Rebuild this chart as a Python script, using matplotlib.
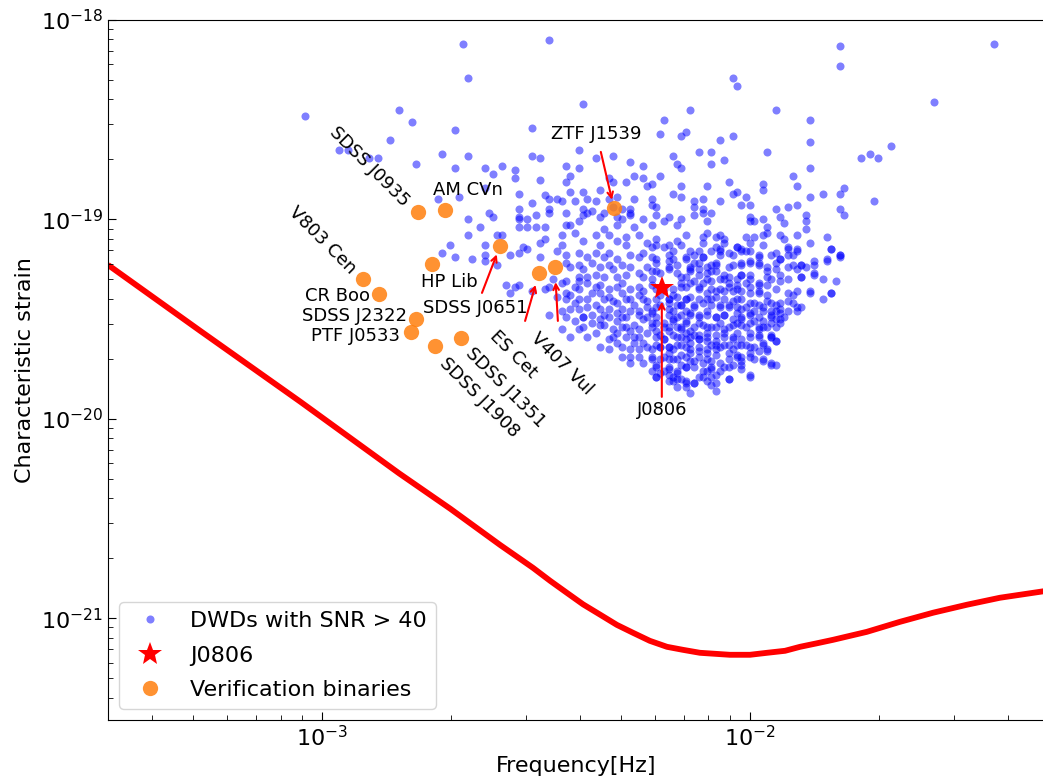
import numpy as np
import matplotlib
matplotlib.use("Agg")
import matplotlib.pyplot as plt
from matplotlib.ticker import NullFormatter

# ---- data (log10 frequency [Hz], log10 characteristic strain) ----
# sparse upper part of the DWD population
dwd_upper = [
    (-3.04, -18.48), (-2.67, -18.12), (-2.47, -18.10), (-2.66, -18.29), (-2.82, -18.45),
    (-2.79, -18.51), (-2.69, -18.55), (-2.39, -18.42), (-2.84, -18.60), (-2.96, -18.65),
    (-2.94, -18.65), (-2.89, -18.69), (-2.87, -18.69), (-2.78, -18.72), (-2.72, -18.67),
    (-2.66, -18.68), (-2.69, -18.74), (-2.51, -18.54), (-2.51, -18.68), (-2.49, -18.69),
    (-2.62, -18.74), (-2.60, -18.77), (-2.58, -18.73), (-2.55, -18.75), (-2.55, -18.79),
    (-2.49, -18.80), (-2.40, -18.65), (-2.43, -18.73), (-2.42, -18.78), (-2.40, -18.74),
    (-2.43, -18.81), (-2.36, -18.69), (-2.73, -18.90), (-2.68, -18.89), (-2.61, -18.97),
    (-2.60, -18.99), (-2.54, -18.87), (-2.51, -18.92), (-2.48, -18.88), (-2.47, -18.90),
    (-2.47, -18.95), (-2.47, -18.97), (-2.45, -18.90), (-2.44, -18.91), (-2.41, -18.91),
    (-2.42, -18.86), (-2.39, -18.86), (-2.38, -18.90), (-2.36, -18.91), (-2.39, -18.95),
    (-2.38, -18.97), (-2.54, -18.95), (-2.50, -18.98), (-2.54, -18.99), (-2.66, -19.00),
    (-2.62, -18.84),
    (-1.79, -18.13), (-1.79, -18.23), (-1.43, -18.12), (-2.04, -18.29), (-2.03, -18.33),
    (-1.57, -18.41), (-2.14, -18.45), (-1.94, -18.45), (-1.86, -18.50), (-2.20, -18.50),
    (-2.21, -18.57), (-2.16, -18.58), (-2.15, -18.56), (-2.07, -18.60), (-2.04, -18.58),
    (-1.86, -18.61), (-1.67, -18.63), (-1.74, -18.69), (-1.72, -18.67), (-1.70, -18.69),
    (-2.32, -18.68), (-2.28, -18.71), (-2.18, -18.68), (-2.17, -18.72), (-2.16, -18.74),
    (-2.12, -18.66), (-2.09, -18.66), (-2.09, -18.72), (-2.06, -18.70), (-1.96, -18.66),
    (-1.90, -18.78), (-1.89, -18.83), (-1.86, -18.74), (-1.71, -18.91), (-1.83, -18.87),
    (-1.79, -18.87), (-1.78, -18.84), (-1.79, -18.95), (-1.78, -18.98), (-1.86, -18.89),
    (-1.87, -18.98), (-2.27, -18.78), (-2.25, -18.79), (-2.24, -18.83), (-2.23, -18.82),
    (-2.21, -18.78), (-2.29, -18.81), (-2.32, -18.81), (-2.33, -18.79), (-2.18, -18.87),
    (-2.16, -18.89), (-2.16, -18.83), (-2.10, -18.83), (-2.05, -18.81), (-2.04, -18.87),
    (-2.03, -18.86), (-2.01, -18.89), (-2.02, -18.93), (-2.00, -18.93), (-1.97, -18.82),
    (-1.97, -18.85), (-2.07, -18.91), (-2.11, -18.90), (-2.13, -18.91), (-2.23, -18.90),
    (-2.23, -18.93), (-2.22, -18.94), (-2.27, -18.90), (-2.28, -18.95), (-2.28, -18.98),
    (-1.94, -18.95), (-1.91, -18.94), (-1.89, -18.93), (-1.93, -18.99), (-2.13, -18.94),
    (-2.11, -18.95), (-2.11, -18.97), (-2.13, -18.98), (-2.09, -18.97), (-1.79, -19.18),
    (-2.25, -18.73), (-2.33, -18.90), (-2.31, -18.89), (-2.32, -18.94), (-2.30, -18.95),
    (-2.35, -18.85), (-2.31, -18.99), (-2.00, -18.99),
]

# middle band
dwd_middle = [
    (-2.66, -19.08), (-2.63, -19.04), (-2.59, -19.08), (-2.58, -19.08), (-2.62, -19.13),
    (-2.70, -19.13), (-2.72, -19.17), (-2.69, -19.19), (-2.65, -19.20), (-2.62, -19.21),
    (-2.59, -19.23), (-2.54, -19.00), (-2.54, -19.04), (-2.52, -19.00), (-2.52, -19.04),
    (-2.50, -19.04), (-2.48, -19.04), (-2.53, -19.14), (-2.52, -19.15), (-2.49, -19.12),
    (-2.48, -19.10),
    (-2.43, -18.97), (-2.42, -19.03), (-2.40, -19.01), (-2.39, -18.98), (-2.37, -18.96),
    (-2.35, -18.99), (-2.34, -18.97), (-2.31, -19.03), (-2.30, -19.00), (-2.28, -18.97),
    (-2.27, -19.04), (-2.25, -19.00), (-2.23, -19.03), (-2.22, -18.98), (-2.20, -19.01),
    (-2.19, -18.99), (-2.16, -19.00), (-2.17, -19.03), (-2.44, -19.08), (-2.43, -19.03),
    (-2.41, -19.07), (-2.39, -19.11), (-2.36, -19.08), (-2.34, -19.05), (-2.33, -19.08),
    (-2.31, -19.11), (-2.29, -19.09), (-2.26, -19.08), (-2.24, -19.12), (-2.22, -19.10),
    (-2.19, -19.13), (-2.17, -19.11), (-2.15, -19.08), (-2.44, -19.13), (-2.35, -19.13),
    (-2.29, -19.13), (-2.22, -19.13),
    (-2.10, -19.01), (-2.07, -19.08), (-2.06, -19.10), (-2.06, -19.12), (-2.08, -19.09),
    (-2.11, -19.09), (-2.10, -19.07), (-2.11, -19.12), (-2.01, -19.09), (-2.00, -19.12),
    (-1.99, -19.09), (-1.97, -19.08), (-1.97, -19.13), (-1.96, -19.07), (-2.08, -19.14),
    (-2.07, -19.15), (-2.03, -19.14), (-2.02, -19.15), (-1.93, -19.08), (-1.92, -19.10),
    (-1.91, -19.14), (-1.89, -19.08), (-1.89, -19.15), (-2.00, -19.01), (-1.99, -19.01),
    (-1.97, -19.00), (-1.96, -19.04), (-1.92, -19.02), (-1.87, -19.01), (-1.87, -19.05),
    (-1.86, -19.12), (-1.82, -19.09), (-1.81, -19.15),
]

# dense core, lower frequency half
dwd_core_a = [
    (-2.62, -19.18), (-2.56, -19.18), (-2.54, -19.17), (-2.49, -19.19), (-2.45, -19.16),
    (-2.43, -19.18), (-2.40, -19.17), (-2.38, -19.19), (-2.36, -19.17), (-2.34, -19.19),
    (-2.33, -19.17), (-2.31, -19.20), (-2.28, -19.18), (-2.26, -19.19), (-2.25, -19.17),
    (-2.23, -19.19), (-2.22, -19.22), (-2.19, -19.18), (-2.18, -19.20), (-2.15, -19.19),
    (-2.14, -19.24), (-2.43, -19.22), (-2.42, -19.24), (-2.40, -19.23), (-2.39, -19.25),
    (-2.37, -19.22), (-2.35, -19.24), (-2.33, -19.23), (-2.32, -19.25), (-2.30, -19.23),
    (-2.28, -19.24), (-2.26, -19.27), (-2.24, -19.24), (-2.22, -19.26), (-2.19, -19.24),
    (-2.17, -19.27), (-2.15, -19.29), (-2.40, -19.29), (-2.38, -19.29), (-2.36, -19.28),
    (-2.34, -19.29), (-2.31, -19.29), (-2.29, -19.28), (-2.25, -19.29), (-2.23, -19.30),
    (-2.57, -19.33), (-2.55, -19.34), (-2.54, -19.33), (-2.47, -19.34), (-2.46, -19.30),
    (-2.44, -19.32), (-2.43, -19.31), (-2.41, -19.34), (-2.40, -19.35), (-2.38, -19.32),
    (-2.36, -19.34), (-2.35, -19.33), (-2.33, -19.35), (-2.31, -19.34), (-2.30, -19.32),
    (-2.28, -19.35), (-2.26, -19.34), (-2.25, -19.36), (-2.23, -19.33), (-2.18, -19.35),
    (-2.16, -19.32), (-2.15, -19.34), (-2.56, -19.37), (-2.51, -19.36), (-2.48, -19.35),
    (-2.45, -19.39), (-2.43, -19.40), (-2.42, -19.38), (-2.40, -19.40), (-2.38, -19.40),
    (-2.36, -19.43), (-2.34, -19.40), (-2.33, -19.39), (-2.31, -19.42), (-2.29, -19.40),
    (-2.27, -19.43), (-2.25, -19.40), (-2.24, -19.44), (-2.22, -19.40), (-2.19, -19.40),
    (-2.17, -19.43), (-2.15, -19.40), (-2.42, -19.45), (-2.40, -19.45), (-2.38, -19.44),
    (-2.35, -19.45), (-2.33, -19.45), (-2.30, -19.45), (-2.28, -19.46), (-2.26, -19.46),
    (-2.23, -19.47), (-2.19, -19.45), (-2.15, -19.46), (-2.47, -19.48), (-2.43, -19.49),
    (-2.41, -19.51), (-2.39, -19.49), (-2.39, -19.54), (-2.37, -19.48), (-2.35, -19.50),
    (-2.33, -19.49), (-2.31, -19.51), (-2.29, -19.49), (-2.27, -19.53), (-2.25, -19.50),
    (-2.23, -19.52), (-2.22, -19.49), (-2.18, -19.50), (-2.16, -19.54), (-2.15, -19.51),
    (-2.44, -19.55), (-2.35, -19.53), (-2.32, -19.55), (-2.30, -19.54), (-2.28, -19.56),
    (-2.26, -19.55), (-2.24, -19.57), (-2.22, -19.56), (-2.19, -19.56), (-2.17, -19.59),
    (-2.15, -19.57), (-2.42, -19.59), (-2.35, -19.64), (-2.33, -19.60), (-2.33, -19.65),
    (-2.31, -19.62), (-2.29, -19.59), (-2.27, -19.62), (-2.26, -19.59), (-2.26, -19.65),
    (-2.24, -19.64), (-2.22, -19.63), (-2.20, -19.60), (-2.19, -19.64), (-2.17, -19.63),
    (-2.15, -19.60), (-2.30, -19.69), (-2.28, -19.72), (-2.26, -19.69), (-2.23, -19.69),
    (-2.21, -19.70), (-2.19, -19.67), (-2.17, -19.70), (-2.15, -19.69), (-2.23, -19.76),
    (-2.21, -19.77), (-2.17, -19.77), (-2.15, -19.74), (-2.19, -19.81), (-2.15, -19.82),
    (-2.14, -19.87),
]

# dense core, higher frequency half
dwd_core_b = [
    (-2.12, -19.16), (-2.11, -19.19), (-2.07, -19.16), (-2.04, -19.18), (-2.02, -19.16),
    (-2.00, -19.16), (-1.98, -19.18), (-1.94, -19.17), (-1.91, -19.18), (-1.89, -19.16),
    (-1.81, -19.15), (-1.79, -19.18), (-2.13, -19.22), (-2.09, -19.23), (-2.08, -19.23),
    (-2.04, -19.23), (-2.02, -19.23), (-2.00, -19.22), (-1.98, -19.23), (-1.96, -19.26),
    (-1.94, -19.22), (-1.93, -19.20), (-1.90, -19.23), (-1.88, -19.23), (-1.85, -19.23),
    (-1.82, -19.21), (-2.02, -19.28), (-2.00, -19.28), (-1.95, -19.30), (-1.93, -19.28),
    (-1.88, -19.29), (-1.85, -19.27), (-2.14, -19.25), (-2.12, -19.25), (-2.10, -19.27),
    (-2.08, -19.26), (-2.06, -19.28), (-2.13, -19.31), (-2.11, -19.32), (-2.09, -19.31),
    (-2.06, -19.30), (-2.05, -19.32), (-2.03, -19.33), (-2.01, -19.32), (-1.98, -19.33),
    (-1.96, -19.33), (-2.04, -19.36), (-2.06, -19.36), (-2.08, -19.36), (-2.10, -19.37),
    (-2.12, -19.35), (-2.00, -19.37), (-1.98, -19.37), (-2.02, -19.36), (-1.80, -19.31),
    (-1.91, -19.37), (-1.89, -19.36), (-1.86, -19.36), (-1.81, -19.37), (-1.83, -19.40),
    (-2.14, -19.39), (-2.12, -19.40), (-2.10, -19.40), (-2.08, -19.39), (-2.06, -19.40),
    (-2.04, -19.41), (-2.02, -19.40), (-2.00, -19.42), (-1.98, -19.43), (-1.96, -19.41),
    (-1.94, -19.43), (-1.93, -19.42), (-1.91, -19.41), (-1.90, -19.42), (-1.88, -19.44),
    (-1.89, -19.46), (-2.13, -19.43), (-2.09, -19.43), (-2.07, -19.44), (-2.05, -19.43),
    (-2.03, -19.44), (-2.02, -19.45), (-1.99, -19.46), (-1.97, -19.46), (-1.95, -19.46),
    (-1.94, -19.46), (-1.93, -19.47), (-2.14, -19.48), (-2.12, -19.48), (-2.10, -19.48),
    (-2.08, -19.49), (-2.06, -19.48), (-2.04, -19.50), (-2.02, -19.50), (-2.00, -19.48),
    (-1.99, -19.51), (-1.97, -19.51), (-1.95, -19.49), (-1.94, -19.50), (-1.92, -19.49),
    (-2.12, -19.52), (-2.10, -19.54), (-2.08, -19.54), (-2.06, -19.55), (-2.04, -19.53),
    (-2.02, -19.53), (-2.00, -19.52), (-1.98, -19.55), (-1.97, -19.54), (-1.95, -19.52),
    (-1.93, -19.52), (-1.95, -19.59), (-2.14, -19.56), (-2.13, -19.58), (-2.12, -19.58),
    (-2.10, -19.57), (-2.08, -19.58), (-2.06, -19.57), (-2.04, -19.60), (-2.03, -19.57),
    (-2.00, -19.57), (-1.98, -19.58), (-1.97, -19.62), (-1.95, -19.58), (-1.94, -19.61),
    (-2.14, -19.62), (-2.12, -19.60), (-2.10, -19.61), (-2.08, -19.63), (-2.06, -19.63),
    (-2.05, -19.63), (-2.03, -19.63), (-2.01, -19.63), (-1.99, -19.64), (-1.97, -19.63),
    (-1.96, -19.66), (-2.14, -19.67), (-2.12, -19.66), (-2.10, -19.67), (-2.08, -19.65),
    (-2.05, -19.67), (-2.03, -19.68), (-2.02, -19.69), (-2.00, -19.67), (-1.99, -19.70),
    (-1.97, -19.70), (-1.95, -19.72), (-1.94, -19.73), (-2.13, -19.71), (-2.11, -19.72),
    (-2.09, -19.71), (-2.07, -19.72), (-2.06, -19.74), (-2.04, -19.73), (-2.02, -19.73),
    (-2.10, -19.76), (-2.09, -19.75), (-2.13, -19.82), (-2.10, -19.81), (-2.08, -19.78),
    (-2.09, -19.83), (-2.05, -19.80), (-2.00, -19.78), (-2.08, -19.86), (-2.12, -19.79),
]

# dense core, second layer of overlapping points around J0806
dwd_core_c = [
    (-2.23, -19.14), (-2.20, -19.14), (-2.18, -19.16), (-2.16, -19.13), (-2.14, -19.16),
    (-2.13, -19.18), (-2.11, -19.19), (-2.09, -19.16), (-2.08, -19.22), (-2.07, -19.18),
    (-2.05, -19.17), (-2.03, -19.14), (-2.01, -19.16), (-2.00, -19.21), (-1.98, -19.19),
    (-1.95, -19.18), (-1.93, -19.20), (-1.91, -19.15), (-1.90, -19.18), (-1.88, -19.23),
    (-1.85, -19.21), (-1.82, -19.20), (-1.79, -19.19), (-2.22, -19.20), (-2.19, -19.21),
    (-2.17, -19.23), (-2.15, -19.20), (-2.12, -19.22), (-2.10, -19.24), (-2.05, -19.24),
    (-2.02, -19.22), (-1.98, -19.22), (-1.96, -19.24), (-1.94, -19.25), (-1.91, -19.24),
    (-1.89, -19.25), (-1.87, -19.24),
    (-2.23, -19.26), (-2.21, -19.27), (-2.19, -19.25), (-2.16, -19.29), (-2.14, -19.26),
    (-2.12, -19.28), (-2.10, -19.30), (-2.09, -19.26), (-2.07, -19.30), (-2.05, -19.29),
    (-2.03, -19.30), (-2.02, -19.28), (-2.00, -19.30), (-1.98, -19.32), (-1.96, -19.29),
    (-1.93, -19.31), (-1.91, -19.30), (-1.88, -19.29), (-1.85, -19.28), (-1.83, -19.30),
    (-1.81, -19.37), (-1.86, -19.37), (-1.90, -19.38), (-2.16, -19.34), (-2.14, -19.32),
    (-2.12, -19.34), (-2.09, -19.35), (-2.07, -19.35), (-2.05, -19.34), (-2.03, -19.35),
    (-2.00, -19.34), (-1.98, -19.36), (-1.96, -19.38), (-1.94, -19.35), (-2.22, -19.35),
    (-2.20, -19.35), (-2.18, -19.38),
    (-2.19, -19.40), (-2.16, -19.43), (-2.15, -19.40), (-2.13, -19.44), (-2.11, -19.42),
    (-2.09, -19.40), (-2.07, -19.43), (-2.05, -19.44), (-2.03, -19.40), (-2.01, -19.44),
    (-1.99, -19.42), (-1.97, -19.44), (-1.95, -19.42), (-1.93, -19.45), (-1.91, -19.46),
    (-1.89, -19.44), (-2.21, -19.43), (-2.23, -19.46), (-2.18, -19.46), (-2.16, -19.48),
    (-2.14, -19.47), (-2.12, -19.49), (-2.10, -19.46), (-2.08, -19.49), (-2.06, -19.48),
    (-2.03, -19.47), (-2.02, -19.49), (-2.00, -19.47), (-1.98, -19.49), (-1.95, -19.48),
    (-1.93, -19.50),
    (-2.22, -19.52), (-2.20, -19.54), (-2.18, -19.51), (-2.17, -19.54), (-2.15, -19.52),
    (-2.13, -19.54), (-2.11, -19.53), (-2.09, -19.54), (-2.07, -19.52), (-2.05, -19.54),
    (-2.03, -19.52), (-2.01, -19.54), (-1.98, -19.54), (-1.96, -19.54), (-1.94, -19.54),
    (-2.22, -19.59), (-2.20, -19.60), (-2.18, -19.58), (-2.16, -19.59), (-2.14, -19.59),
    (-2.12, -19.60), (-2.10, -19.59), (-2.08, -19.61), (-2.06, -19.59), (-2.04, -19.59),
    (-2.02, -19.60), (-2.00, -19.59), (-1.98, -19.59), (-1.95, -19.59), (-1.94, -19.61),
    (-2.21, -19.64), (-2.19, -19.64), (-2.16, -19.63), (-2.14, -19.65), (-2.12, -19.64),
    (-2.10, -19.65), (-2.09, -19.63), (-2.07, -19.64), (-2.04, -19.65), (-2.02, -19.63),
    (-2.00, -19.64), (-1.98, -19.66), (-1.96, -19.65),
    (-2.23, -19.70), (-2.20, -19.69), (-2.18, -19.70), (-2.16, -19.68), (-2.14, -19.71),
    (-2.12, -19.69), (-2.10, -19.70), (-2.08, -19.68), (-2.05, -19.70), (-2.03, -19.69),
    (-2.02, -19.71), (-2.00, -19.69), (-1.97, -19.71), (-1.95, -19.73), (-2.22, -19.74),
    (-2.19, -19.75), (-2.17, -19.76), (-2.15, -19.74), (-2.13, -19.74), (-2.11, -19.76),
    (-2.09, -19.74), (-2.07, -19.76), (-2.05, -19.74), (-2.02, -19.75), (-2.22, -19.79),
    (-2.20, -19.76), (-2.18, -19.79), (-2.16, -19.80), (-2.13, -19.82), (-2.11, -19.79),
    (-2.09, -19.79), (-2.08, -19.82), (-2.05, -19.80), (-2.00, -19.79), (-2.15, -19.84),
    (-2.18, -19.81),
    (-2.35, -19.37), (-2.32, -19.41), (-2.30, -19.37), (-2.28, -19.40), (-2.26, -19.38),
    (-2.24, -19.41), (-2.22, -19.44), (-2.21, -19.38), (-2.19, -19.42), (-2.17, -19.39),
    (-2.16, -19.43), (-2.34, -19.48), (-2.31, -19.47), (-2.30, -19.49), (-2.26, -19.48),
    (-2.24, -19.49), (-2.20, -19.52), (-2.19, -19.48), (-2.17, -19.49), (-2.34, -19.53),
    (-2.31, -19.57), (-2.29, -19.54), (-2.27, -19.59), (-2.23, -19.54), (-2.21, -19.58),
    (-2.19, -19.54), (-2.16, -19.55), (-2.32, -19.59), (-2.30, -19.64), (-2.28, -19.65),
    (-2.25, -19.62), (-2.23, -19.65), (-2.21, -19.64), (-2.18, -19.65), (-2.15, -19.64),
    (-2.28, -19.69), (-2.25, -19.72), (-2.22, -19.73), (-2.19, -19.70), (-2.19, -19.74),
    (-2.16, -19.73), (-2.22, -19.79), (-2.19, -19.78), (-2.17, -19.80), (-2.15, -19.81),
    (-2.17, -19.84), (-2.40, -19.31), (-2.37, -19.37), (-2.43, -19.37), (-2.41, -19.42),
    (-2.44, -19.46), (-2.39, -19.49), (-2.37, -19.52), (-2.40, -19.55), (-2.38, -19.59),
    (-2.36, -19.57),
]

# known verification binaries
vb_names = ["SDSS J0935", "AM CVn", "HP Lib", "SDSS J0651", "V803 Cen", "CR Boo",
            "SDSS J2322", "PTF J0533", "SDSS J1908", "SDSS J1351", "ES Cet",
            "V407 Vul", "ZTF J1539"]
vb_logf = [-2.776, -2.713, -2.743, -2.584, -2.904, -2.867, -2.781, -2.792, -2.736,
           -2.675, -2.493, -2.456, -2.318]
vb_logh = [-18.962, -18.952, -19.223, -19.133, -19.298, -19.373, -19.499, -19.564,
           -19.634, -19.594, -19.268, -19.238, -18.942]

j0806_logf = -2.206
j0806_logh = -19.343

# LISA sensitivity curve
lisa_logf = [-3.50, -3.285, -3.05, -2.82, -2.70, -2.584, -2.507, -2.467, -2.428, -2.390,
             -2.350, -2.311, -2.273, -2.234, -2.194, -2.157, -2.117, -2.082, -2.047,
             -2.000, -1.960, -1.918, -1.883, -1.845, -1.806, -1.727, -1.650, -1.572,
             -1.493, -1.416, -1.30]
lisa_logh = [-19.228, -19.558, -19.915, -20.273, -20.451, -20.632, -20.747, -20.812,
             -20.872, -20.930, -20.982, -21.033, -21.073, -21.113, -21.143, -21.158,
             -21.173, -21.178, -21.183, -21.183, -21.173, -21.163, -21.143, -21.126,
             -21.108, -21.068, -21.018, -20.972, -20.932, -20.897, -20.86]

# label placement: offset (points) from the binary, rotation, alignment
label_style = {
    "SDSS J0935": ((-34.6, 32.4), -45, "center"),
    "AM CVn": ((16.6, 14.4), 0, "center"),
    "HP Lib": ((12.5, -13.0), 0, "center"),
    "SDSS J0651": ((-18.0, -44.6), 0, "center"),
    "V803 Cen": ((-29.5, 28.0), -45, "center"),
    "CR Boo": ((-6.5, -1.5), 0, "right"),
    "SDSS J2322": ((-6.5, 2.0), 0, "right"),
    "PTF J0533": ((-8.0, -3.3), 0, "right"),
    "SDSS J1908": ((32.0, -37.0), -45, "center"),
    "SDSS J1351": ((32.0, -35.5), -45, "center"),
    "ES Cet": ((-18.7, -59.0), -45, "center"),
    "V407 Vul": ((4.7, -69.5), -45, "center"),
    "ZTF J1539": ((-13.0, 53.3), 0, "center"),
}
# arrows: tail offset (points) from the binary, gap at the head (points)
arrow_style = {
    "SDSS J0651": ((-13.0, -33.8), 6.5),
    "ES Cet": ((-10.0, -34.6), 9.0),
    "V407 Vul": ((2.2, -38.9), 11.0),
    "ZTF J1539": ((-9.4, 40.3), 6.0),
}

fig = plt.figure(figsize=(10.43, 7.8), dpi=100)
ax = fig.add_axes([108 / 1043, 60 / 780, 936 / 1043, 700 / 780])

dwd = np.array(dwd_upper + dwd_middle + dwd_core_a + dwd_core_b + dwd_core_c)
ax.plot(10 ** dwd[:, 0], 10 ** dwd[:, 1], "o", color="blue", alpha=0.5, ms=5.8, mew=0,
        label="DWDs with SNR > 40", zorder=2)
ax.plot(10 ** np.array(lisa_logf), 10 ** np.array(lisa_logh), color="red", lw=4.2,
        solid_capstyle="butt", solid_joinstyle="round", zorder=1)
ax.plot(10 ** j0806_logf, 10 ** j0806_logh, "*", color="red", ms=18, mew=0,
        label="J0806", zorder=4)
ax.plot(10 ** np.array(vb_logf), 10 ** np.array(vb_logh), "o", color="#ff7f0e", alpha=0.85,
        ms=11, mew=0, label="Verification binaries", zorder=3)

for name, lf, lh in zip(vb_names, vb_logf, vb_logh):
    off, rot, ha = label_style[name]
    ax.annotate(name, (10 ** lf, 10 ** lh), xytext=off, textcoords="offset points",
                rotation=rot, ha=ha, va="center", fontsize=13, rotation_mode="anchor")
    if name in arrow_style:
        aoff, gap = arrow_style[name]
        ax.annotate("", (10 ** lf, 10 ** lh), xytext=aoff, textcoords="offset points",
                    arrowprops=dict(arrowstyle="->", color="red", lw=1.5,
                                    shrinkA=0, shrinkB=gap))

ax.annotate("J0806", (10 ** j0806_logf, 10 ** j0806_logh), xytext=(0, -88),
            textcoords="offset points", ha="center", va="center", fontsize=13)
ax.annotate("", (10 ** j0806_logf, 10 ** j0806_logh), xytext=(0, -78.5),
            textcoords="offset points",
            arrowprops=dict(arrowstyle="->", color="red", lw=1.5, shrinkA=0, shrinkB=10))

ax.set_xscale("log")
ax.set_yscale("log")
ax.set_xlim(10 ** -3.5, 10 ** -1.313)
ax.set_ylim(10 ** -21.51, 1e-18)
ax.xaxis.set_minor_formatter(NullFormatter())
ax.yaxis.set_minor_formatter(NullFormatter())
ax.tick_params(which="both", direction="in", top=False, right=False, labelsize=16)
ax.tick_params(which="major", length=6)
ax.tick_params(which="minor", length=3.5)
ax.set_xlabel("Frequency[Hz]", fontsize=16)
ax.set_ylabel("Characteristic strain", fontsize=16)
ax.legend(loc="lower left", fontsize=16, numpoints=1, labelspacing=0.65)

fig.savefig("out.png", dpi=100)
